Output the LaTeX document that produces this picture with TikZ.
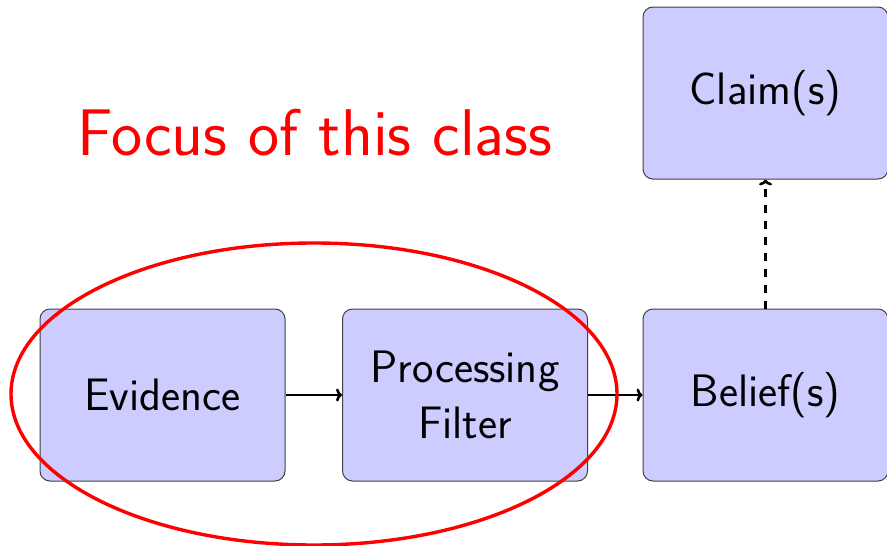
\documentclass[tikz,border=0pt]{standalone}
\usetikzlibrary{arrows.meta}
\begin{document}
\begin{tikzpicture}[x=1pt,y=-1pt,
  box/.style={draw=black!75,line width=1pt,fill=blue!20,rounded corners=10pt,
    minimum width=245pt,minimum height=172pt,inner sep=0pt,align=center,
    font=\sffamily\fontsize{45.5}{56}\selectfont},
  conn/.style={line width=2.6pt,-{To[length=6pt,width=13pt]}}]
\useasboundingbox (0,0) rectangle (887,546);
\node[box] (ev) at (162.5,395) {Evidence};
\node[box] (pf) at (465,395) {Processing\\Filter};
\node[box] (bf) at (765.5,395) {Belief(s)};
\node[box] (cl) at (765.5,93) {Claim(s)};
\draw[conn] (ev) -- (pf);
\draw[conn] (pf) -- (bf);
\draw[conn,dash pattern=on 8pt off 8pt] (bf) -- (cl);
\node[text=red,font=\sffamily\fontsize{66}{78}\selectfont] (focus) at (315,133) {Focus of this class};
\draw[red,line width=3.4pt] (314,394) ellipse [x radius=303,y radius=151];
\end{tikzpicture}
\end{document}
